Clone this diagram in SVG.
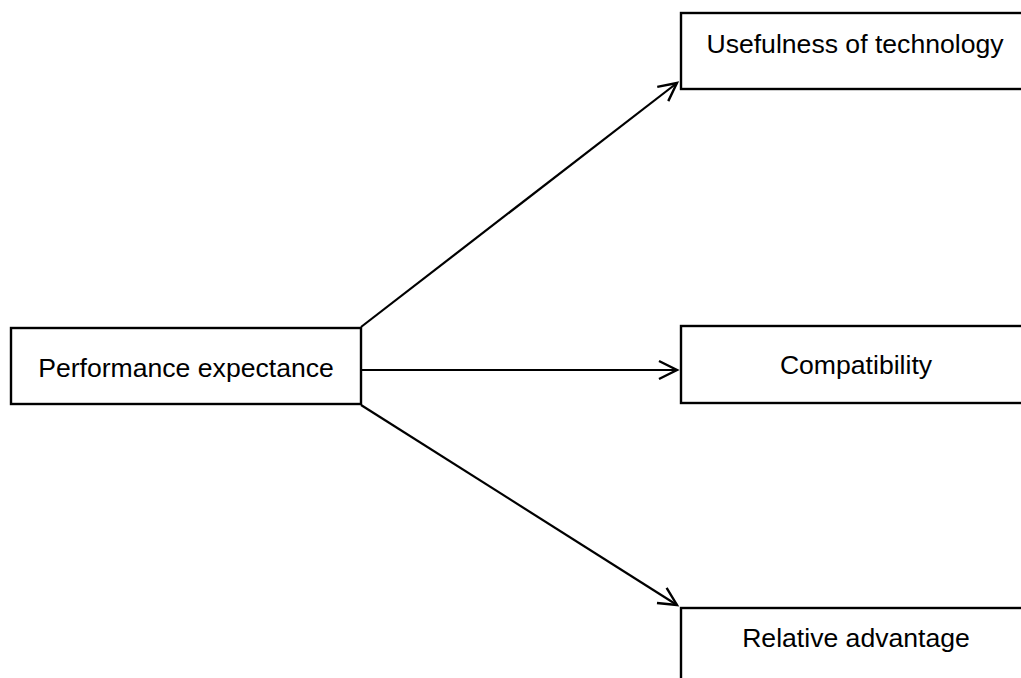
<svg xmlns="http://www.w3.org/2000/svg" width="1021" height="678" viewBox="0 0 1021 678">
  <style>
    .box { fill: #ffffff; stroke: #000000; stroke-width: 2.4; }
    .label { font-family: "Liberation Sans", Arial, sans-serif; font-size: 26.6px; fill: #000000; text-anchor: middle; }
    .edge { fill: none; stroke: #000000; stroke-width: 2.2; marker-end: url(#open-arrow); }
  </style>
  <defs>
    <marker id="open-arrow" markerUnits="userSpaceOnUse" markerWidth="24" markerHeight="24" refX="20" refY="11" orient="auto">
      <path d="M2,2 L20,11 L2,20" fill="none" stroke="#000000" stroke-width="2.4"/>
    </marker>
  </defs>
  <rect width="1021" height="678" fill="#ffffff"/>

  <g id="connectors">
    <line class="edge" x1="361" y1="327" x2="677" y2="83"/>
    <line class="edge" x1="361" y1="370" x2="677" y2="370"/>
    <line class="edge" x1="361" y1="405" x2="677" y2="605"/>
  </g>

  <g id="performance-expectance">
    <rect class="box" x="11" y="328" width="350" height="76"/>
    <text class="label" x="186" y="377">Performance expectance</text>
  </g>

  <g id="usefulness-of-technology">
    <rect class="box" x="681" y="13" width="350" height="76"/>
    <text class="label" x="855" y="53">Usefulness of technology</text>
  </g>

  <g id="compatibility">
    <rect class="box" x="681" y="326" width="350" height="77"/>
    <text class="label" x="856" y="374">Compatibility</text>
  </g>

  <g id="relative-advantage">
    <rect class="box" x="681" y="608" width="350" height="100"/>
    <text class="label" x="856" y="647">Relative advantage</text>
  </g>
</svg>
